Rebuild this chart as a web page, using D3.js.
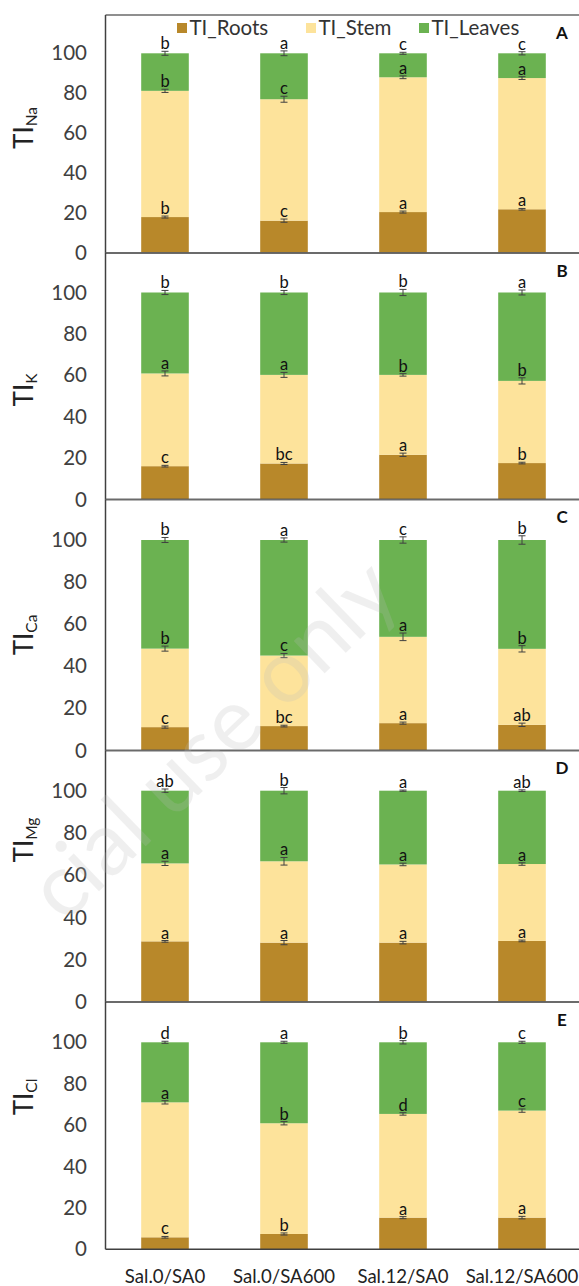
<!DOCTYPE html>
<html><head><meta charset="utf-8">
<script src="https://cdn.jsdelivr.net/npm/d3@7"></script>
<style>body{margin:0;background:#fff;} svg{display:block;font-family:Lato, "Open Sans", sans-serif;}</style>
</head><body><svg id="c" width="579" height="1286"></svg>
<script>
// ---------- data ----------
const categories = ["Sal.0/SA0", "Sal.0/SA600", "Sal.12/SA0", "Sal.12/SA600"];
const seriesNames = ["TI_Roots", "TI_Stem", "TI_Leaves"];
const panelIons = ["Na", "K", "Ca", "Mg", "Cl"];
const panelLetters = ["A", "B", "C", "D", "E"];
const yTicks = [0, 20, 40, 60, 80, 100];

// one row per panel (Na, K, Ca, Mg, Cl), one value per treatment
const rootsTI  = [[18.0, 16.2, 20.5, 21.9], [16.1, 17.4, 21.6, 17.6], [11.1, 11.6, 13.0, 12.2], [28.7, 28.1, 28.1, 28.9], [5.8, 7.4, 15.3, 15.3]];
const stemTI   = [[63.2, 60.8, 67.5, 65.7], [44.8, 42.8, 38.6, 39.7], [37.3, 33.5, 41.0, 36.1], [36.9, 38.5, 37.0, 36.4], [65.2, 53.5, 50.1, 51.7]];
const leavesTI = [[18.8, 23.0, 12.0, 12.4], [39.1, 39.8, 39.8, 42.7], [51.6, 54.9, 46.0, 51.7], [34.4, 33.4, 34.9, 34.7], [29.0, 39.1, 34.6, 33.0]];

const rootsErr  = [[0.5, 0.8, 0.5, 0.4], [0.4, 0.5, 0.8, 0.4], [0.5, 0.4, 0.5, 0.8], [0.4, 1.0, 0.6, 0.4], [0.4, 0.5, 0.5, 0.6]];
const stemErr   = [[0.8, 1.5, 0.7, 0.7], [1.2, 1.2, 0.6, 1.5], [1.2, 1.0, 1.8, 1.5], [1.0, 1.8, 0.6, 0.6], [0.8, 0.8, 0.6, 0.8]];
const leavesErr = [[1.0, 1.2, 0.5, 0.8], [1.0, 1.0, 1.5, 1.2], [1.2, 1.0, 1.5, 2.0], [0.8, 1.5, 0.3, 0.4], [0.5, 0.5, 0.8, 0.5]];

const rootsLetters  = [["b","c","a","a"], ["c","bc","a","b"], ["c","bc","a","ab"], ["a","a","a","a"], ["c","b","a","a"]];
const stemLetters   = [["b","c","a","a"], ["a","a","b","b"], ["b","c","a","b"], ["a","a","a","a"], ["a","b","d","c"]];
const leavesLetters = [["b","a","c","c"], ["b","b","b","a"], ["b","a","c","b"], ["ab","b","a","ab"], ["d","a","b","c"]];

// ---------- layout ----------
const W = 579, H = 1286;
const plotLeft = 105.5, plotRight = 581.5;
const panelGeom = [
  {top: 15,    y100: 53.3,   y0: 253,    titleY: 128},
  {top: 253,   y100: 292.5,  y0: 499.5,  titleY: 390},
  {top: 499.5, y100: 540,    y0: 750.5,  titleY: 635},
  {top: 750.5, y100: 790.7,  y0: 1002,   titleY: 840},
  {top: 1002,  y100: 1042.3, y0: 1249.3, titleY: 1097}
];
const colors = ["#B8882A", "#FDE39B", "#6BB251"];
const lineCol = "#404040";

const svg = d3.select("#c");
svg.append("rect").attr("width", W).attr("height", H).attr("fill", "#fff");

const x = d3.scaleBand().domain(categories).range([plotLeft, plotRight]).paddingInner(0.6).paddingOuter(0.3);

const errs = [rootsErr, stemErr, leavesErr];
const lets = [rootsLetters, stemLetters, leavesLetters];

panelIons.forEach((ion, i) => {
  const L = panelGeom[i];
  const y = d3.scaleLinear().domain([0, 100]).range([L.y0, L.y100]);
  const g = svg.append("g");

  const rows = categories.map((c, j) => ({cat: c, TI_Roots: rootsTI[i][j], TI_Stem: stemTI[i][j], TI_Leaves: leavesTI[i][j]}));
  const stacked = d3.stack().keys(seriesNames)(rows);

  stacked.forEach((s, k) => {
    g.append("g").selectAll("rect").data(s).join("rect")
      .attr("x", d => x(d.data.cat))
      .attr("width", x.bandwidth())
      .attr("y", d => y(d[1]))
      .attr("height", d => y(d[0]) - y(d[1]))
      .attr("fill", colors[k]);
  });

  // error bars and letters
  stacked.forEach((s, k) => {
    const eg = g.append("g");
    s.forEach((d, j) => {
      const cx = x(d.data.cat) + x.bandwidth() / 2;
      const e = errs[k][i][j];
      const yt = y(d[1] + e), yb = y(d[1] - e);
      eg.append("line").attr("x1", cx).attr("x2", cx).attr("y1", yt).attr("y2", yb).attr("stroke", lineCol).attr("stroke-width", 1);
      [yt, yb].forEach(yy => eg.append("line").attr("x1", cx - 3.5).attr("x2", cx + 3.5).attr("y1", yy).attr("y2", yy).attr("stroke", lineCol).attr("stroke-width", 1));
      eg.append("text").attr("x", cx).attr("y", yt - 2).attr("text-anchor", "middle")
        .attr("font-size", 16.5).attr("fill", "#111").text(lets[k][i][j]);
    });
  });

  // y axis
  const ax = d3.axisLeft(y).tickValues(yTicks).tickSize(0).tickPadding(18.5);
  const axg = g.append("g").attr("transform", `translate(${plotLeft},0)`).call(ax);
  axg.select(".domain").remove();
  axg.selectAll("text").attr("font-size", 20.5).attr("fill", "#404040").attr("font-family", "Lato, sans-serif");

  // frame
  g.append("line").attr("x1", plotLeft).attr("x2", W).attr("y1", L.top).attr("y2", L.top).attr("stroke", "#6a6a6a").attr("stroke-width", 1.3);
  g.append("line").attr("x1", plotLeft).attr("x2", plotLeft).attr("y1", L.top).attr("y2", L.y0).attr("stroke", lineCol).attr("stroke-width", 1.5);
  g.append("line").attr("x1", plotLeft).attr("x2", W).attr("y1", L.y0).attr("y2", L.y0).attr("stroke", lineCol).attr("stroke-width", 1.5);

  // y title
  const t = g.append("text").attr("transform", `translate(33,${L.titleY}) rotate(-90)`).attr("text-anchor", "middle")
    .attr("font-size", 26).attr("fill", "#222");
  t.append("tspan").text("TI");
  t.append("tspan").attr("font-size", 15.5).attr("dy", 4).text(ion);

  // panel letter
  g.append("text").attr("x", 562).attr("y", L.top + 23.5).attr("text-anchor", "middle")
    .attr("font-size", 17).attr("font-weight", "bold").attr("fill", "#111").text(panelLetters[i]);
});

// x axis labels (bottom panel)
const xAxis = d3.axisBottom(x).tickSize(0).tickPadding(20);
const xg = svg.append("g").attr("transform", `translate(0,${panelGeom[4].y0})`).call(xAxis);
xg.select(".domain").remove();
xg.selectAll("text").attr("font-size", 18.6).attr("fill", "#222").attr("font-family", "Lato, sans-serif");

// legend
const legX = [177, 306, 419];
const lg = svg.append("g");
seriesNames.forEach((n, k) => {
  lg.append("rect").attr("x", legX[k]).attr("y", 23).attr("width", 10).attr("height", 10).attr("fill", colors[k]);
  lg.append("text").attr("x", legX[k] + 12.5).attr("y", 35).attr("font-size", 20.5).attr("fill", "#333").text(n);
});

// watermark
svg.append("text").attr("transform", "translate(64,925) rotate(-44)").attr("text-anchor", "start")
  .attr("font-size", 88).attr("fill", "#bbb").attr("opacity", 0.22).text("cial use only");
</script></body></html>
